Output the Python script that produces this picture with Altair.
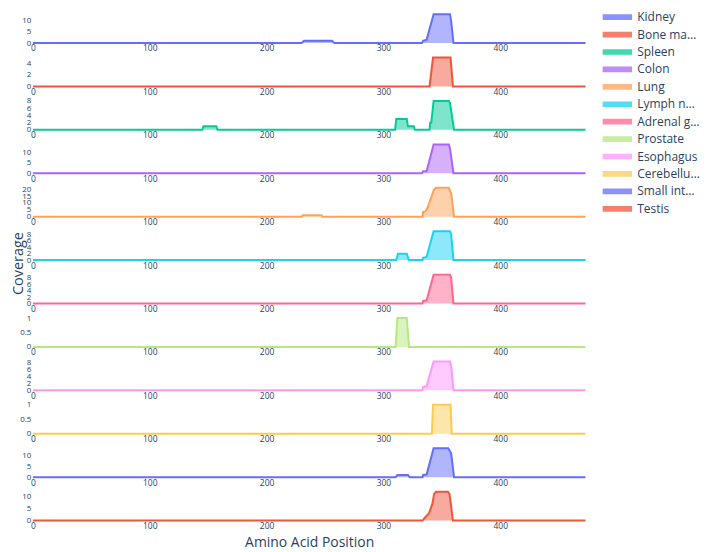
import altair as alt
import pandas as pd

FONT = "Open Sans"
TXT = "#2a3f5f"

tissues = ["Kidney", "Bone marrow", "Spleen", "Colon", "Lung", "Lymph node",
           "Adrenal gland", "Prostate", "Esophagus", "Cerebellum",
           "Small intestine", "Testis"]
colors = ["#636efa", "#EF553B", "#00cc96", "#ab63fa", "#FFA15A", "#19d3f3",
          "#FF6692", "#B6E880", "#FF97FF", "#FECB52", "#636efa", "#EF553B"]

kidney_pos = [0, 230, 232, 256, 258, 333, 334, 337, 343, 357, 358, 360, 473]
kidney_cov = [0, 0, 1, 1, 0, 0, 1, 1.5, 13, 13, 10, 0, 0]
bone_pos = [0, 339.5, 342.5, 357.5, 359.5, 473]
bone_cov = [0, 0, 5, 5, 0, 0]
spleen_pos = [0, 145, 146, 157, 158, 310, 311, 320, 321, 326, 327, 339.5, 340, 341, 343, 356, 357, 360.5, 473]
spleen_cov = [0, 0, 1, 1, 0, 0, 3, 3, 1, 1, 0, 0, 2, 2, 8, 8, 7.5, 0, 0]
colon_pos = [0, 333, 334, 337, 343, 356, 357, 360, 473]
colon_cov = [0, 0, 1, 1, 14, 14, 12, 0, 0]
lung_pos = [0, 230, 231, 247, 248, 333.5, 334, 336, 338, 340.5, 343, 345, 356, 358, 360.5, 473]
lung_cov = [0, 0, 1, 1, 0, 0, 3.5, 3.8, 7, 13, 19, 21, 21, 17, 0, 0]
lymph_pos = [0, 311, 312.5, 320, 321.8, 333.5, 334, 337, 343, 357, 358, 360, 473]
lymph_cov = [0, 0, 2, 2, 0, 0, 0.7, 1, 9, 9, 8, 0, 0]
adrenal_pos = [0, 333.5, 334, 337, 343, 357, 358, 360, 473]
adrenal_cov = [0, 0, 0.8, 1, 9, 9, 8, 0, 0]
prostate_pos = [0, 310.5, 312, 320, 322, 473]
prostate_cov = [0, 0, 1, 1, 0, 0]
esoph_pos = [0, 333.5, 334, 337, 343, 357, 358, 360, 473]
esoph_cov = [0, 0, 1, 1.2, 8.3, 8.3, 7, 0, 0]
cereb_pos = [0, 341.5, 342.5, 357.5, 358.5, 473]
cereb_cov = [0, 0, 1, 1, 0, 0]
smallint_pos = [0, 310.5, 312, 321, 322.5, 333.5, 334, 337, 343, 355.5, 358, 360.5, 473]
smallint_cov = [0, 0, 1, 1, 0, 0, 1, 1.2, 13.3, 13.3, 11, 0, 0]
testis_pos = [0, 333.5, 336.3, 339, 342, 343.4, 345, 355.2, 356.6, 358, 359.5, 473]
testis_cov = [0, 0, 1.6, 3, 7, 11, 12, 12, 11, 6, 0, 0]

positions = [kidney_pos, bone_pos, spleen_pos, colon_pos, lung_pos, lymph_pos,
             adrenal_pos, prostate_pos, esoph_pos, cereb_pos, smallint_pos, testis_pos]
coverages = [kidney_cov, bone_cov, spleen_cov, colon_cov, lung_cov, lymph_cov,
             adrenal_cov, prostate_cov, esoph_cov, cereb_cov, smallint_cov, testis_cov]
y_ticks = [[0, 5, 10], [0, 2, 4], [0, 2, 4, 6, 8], [0, 5, 10], [0, 5, 10, 15, 20],
           [0, 2, 4, 6, 8], [0, 2, 4, 6, 8], [0, 0.5, 1], [0, 2, 4, 6, 8],
           [0, 0.5, 1], [0, 5, 10], [0, 5, 10]]
x_ticks = [0, 100, 200, 300, 400]
x_max = 473

PW, PH = 555, 29

color_scale = alt.Scale(domain=tissues, range=colors)
legend = alt.Legend(
    title=None, orient="none", legendX=PW + 24, legendY=-5,
    symbolType="M-2,-0.3L2,-0.3L2,0.3L-2,0.3Z", symbolSize=196,
    symbolStrokeWidth=1.5, symbolOpacity=0.75,
    labelFontSize=12, labelFont=FONT, labelColor=TXT, labelLimit=64,
    rowPadding=3.5, labelOffset=12,
)

panels = []
for i, name in enumerate(tissues):
    df = pd.DataFrame({"pos": positions[i], "cov": coverages[i], "tissue": name})
    last = i == len(tissues) - 1
    xaxis = alt.Axis(values=x_ticks, title="Amino Acid Position" if last else None,
                     domain=False, ticks=False, grid=False, labelFlush=False,
                     labelPadding=1, labelFontSize=8.5, labelFont=FONT, labelColor=TXT,
                     titleFontSize=14, titleFont=FONT, titleColor=TXT,
                     titleFontWeight="normal", titlePadding=6)
    yaxis = alt.Axis(values=y_ticks[i], title=None, format=".3~g",
                     domain=False, ticks=False, grid=False, labelOverlap=False,
                     labelPadding=2, labelFontSize=8, labelFont=FONT, labelColor=TXT)
    p = alt.Chart(df).mark_area(
        line={"strokeWidth": 2}, fillOpacity=0.5, interpolate="linear"
    ).encode(
        x=alt.X("pos:Q", scale=alt.Scale(domain=[0, x_max], nice=False), axis=xaxis),
        y=alt.Y("cov:Q", scale=alt.Scale(nice=False, zero=True), axis=yaxis),
        color=alt.Color("tissue:N", scale=color_scale, legend=legend),
    ).properties(width=PW, height=PH)
    panels.append(p)

chart = alt.vconcat(
    *panels, spacing=14.6, bounds="flush",
    title=alt.TitleParams("Coverage", orient="left", anchor="middle", fontSize=14.5,
                          font=FONT, color=TXT, fontWeight="normal", offset=-7, dx=16),
).properties(padding={"left": 3, "top": 0, "right": 0, "bottom": 0}
).configure_view(stroke=None)

chart.save("out.html", embed_options={"renderer": "svg", "actions": False})
